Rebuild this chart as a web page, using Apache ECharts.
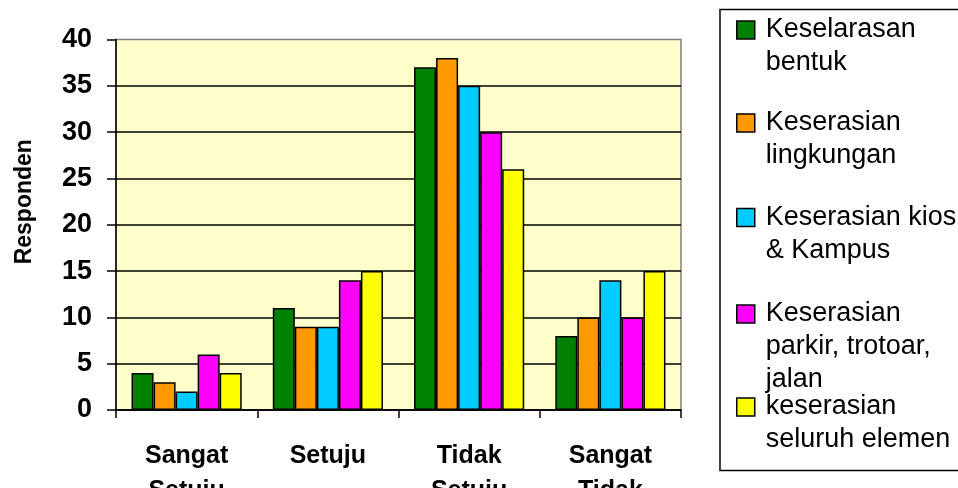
<!DOCTYPE html>
<html>
<head>
<meta charset="utf-8">
<script src="https://cdn.jsdelivr.net/npm/echarts@6/dist/echarts.min.js"></script>
<style>
html,body{margin:0;padding:0;background:#fff;}
#c{width:958px;height:488px;}
</style>
</head>
<body>
<div id="c"></div>
<script>
const categories = ['Sangat\nSetuju', 'Setuju', 'Tidak\nSetuju', 'Sangat\nTidak'];
const seriesNames = ['Keselarasan\nbentuk', 'Keserasian\nlingkungan', 'Keserasian kios\n& Kampus', 'Keserasian\nparkir, trotoar,\njalan', 'keserasian\nseluruh elemen'];
const keselarasanBentuk = [4, 11, 37, 8];
const keserasianLingkungan = [3, 9, 38, 10];
const keserasianKiosKampus = [2, 9, 35, 14];
const keserasianParkir = [6, 14, 30, 10];
const keserasianSeluruh = [4, 15, 26, 15];
const yTicks = [0, 5, 10, 15, 20, 25, 30, 35, 40];

const values = [keselarasanBentuk, keserasianLingkungan, keserasianKiosKampus, keserasianParkir, keserasianSeluruh];
const colors = ['#008000', '#FF9900', '#00CCFF', '#FF00FF', '#FFFF00'];
const FONT = "'Liberation Sans', Arial, sans-serif";

const LH = 33;
const iconCenters = [30, 123, 217.5, 314, 407];

const legends = seriesNames.map(function (name, i) {
  const n = name.split('\n').length;
  const boxH = (2 * n - 1) * LH;
  return {
    orient: 'vertical',
    left: 736,
    top: iconCenters[i] - boxH / 2,
    padding: 0,
    itemWidth: 18,
    itemHeight: 18,
    icon: 'rect',
    selectedMode: false,
    data: [name],
    formatter: function (nm) {
      let pre = '';
      for (let k = 1; k < n; k++) pre += ' \n';
      return pre + nm;
    },
    itemStyle: { borderColor: '#000', borderWidth: 1.5 },
    textStyle: {
      fontFamily: FONT,
      fontSize: 27,
      color: '#000',
      lineHeight: LH,
      padding: [0, 0, 0, 6]
    }
  };
});

const chart = echarts.init(document.getElementById('c'), null, { renderer: 'canvas' });
chart.setOption({
  animation: false,
  backgroundColor: '#fff',
  grid: {
    left: 116, right: 277, top: 39.5, bottom: 78,
    outerBoundsMode: 'none',
    containLabel: false,
    show: true, backgroundColor: '#FFFFCC', borderColor: '#808080', borderWidth: 1.5
  },
  graphic: [{
    type: 'rect', silent: true, z: -1,
    shape: { x: 720, y: 9.5, width: 300, height: 461 },
    style: { fill: '#fff', stroke: '#000', lineWidth: 1.5 }
  }],
  legend: legends,
  xAxis: {
    type: 'category',
    data: categories,
    axisLine: { lineStyle: { color: '#000', width: 1.5 } },
    axisTick: { show: true, length: 8, lineStyle: { color: '#000', width: 1.5 } },
    axisLabel: {
      interval: 0, margin: 29, color: '#000', fontFamily: FONT,
      fontWeight: 'bold', fontSize: 25, lineHeight: 35
    },
    splitLine: { show: false }
  },
  yAxis: {
    type: 'value',
    min: yTicks[0], max: yTicks[yTicks.length - 1], interval: yTicks[1] - yTicks[0],
    name: 'Responden',
    nameLocation: 'middle',
    nameGap: 80,
    nameRotate: 90,
    nameTextStyle: { fontFamily: FONT, fontWeight: 'bold', fontSize: 23, color: '#000', padding: [0, 0, 0, 46] },
    axisLine: { show: true, lineStyle: { color: '#000', width: 1.5 } },
    axisTick: { show: true, length: 9, lineStyle: { color: '#000', width: 1.5 } },
    axisLabel: { margin: 24, color: '#000', fontFamily: FONT, fontWeight: 'bold', fontSize: 27 },
    splitLine: { show: true, showMaxLine: false, lineStyle: { color: '#000', width: 1.5 } }
  },
  series: values.map(function (v, i) {
    return {
      type: 'bar',
      name: seriesNames[i],
      data: v,
      barGap: '0%',
      barCategoryGap: '22%',
      itemStyle: { color: colors[i], borderColor: '#000', borderWidth: 1.5 }
    };
  })
});
</script>
</body>
</html>
